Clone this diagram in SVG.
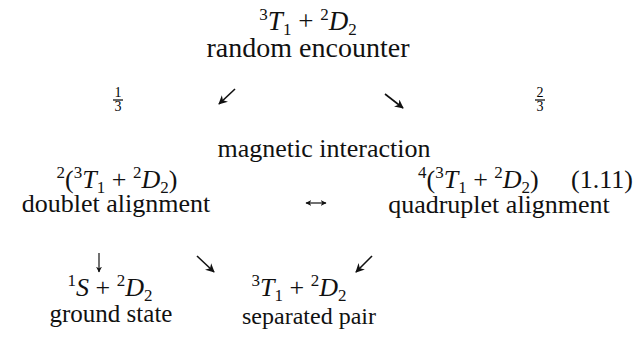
<svg xmlns="http://www.w3.org/2000/svg" width="638" height="354" viewBox="0 0 638 354">
<style>
text{font-family:"Liberation Serif","Times New Roman",serif;font-size:26px;fill:#111}
.m{text-anchor:middle}
.it{font-style:italic}
.s{font-size:17px}
.fr{font-size:14px;text-anchor:middle;fill:#000}
.ar{stroke:#111;stroke-width:1.6;fill:none}
.ar2{stroke:#111;stroke-width:1.2;fill:none}
</style>
<defs>
<marker id="h" viewBox="0 0 10 10" refX="9" refY="5" markerWidth="9" markerHeight="9" markerUnits="userSpaceOnUse" orient="auto">
<path d="M0,0 L10,5 L0,10 L3,5 Z" fill="#111"/>
</marker>
<marker id="hs" viewBox="0 0 10 10" refX="9" refY="5" markerWidth="6" markerHeight="6" markerUnits="userSpaceOnUse" orient="auto-start-reverse">
<path d="M0,0 L10,5 L0,10 L3,5 Z" fill="#111"/>
</marker>
</defs>
<rect width="638" height="354" fill="#fff"/>
<g id="n-top">
<text x="308" y="30" class="m" style="font-size:27px"><tspan class="s" dy="-10">3</tspan><tspan class="it" dy="10">T</tspan><tspan class="s" dy="5">1</tspan><tspan dy="-5"> + </tspan><tspan class="s" dy="-10">2</tspan><tspan class="it" dy="10">D</tspan><tspan class="s" dy="5">2</tspan></text>
<text x="308" y="57" class="m" style="font-size:28px">random encounter</text>
</g>
<g id="n-frac13">
<text x="118" y="97" class="fr">1</text>
<line x1="113" y1="100" x2="123" y2="100" stroke="#000" stroke-width="1.2"/>
<text x="118" y="111" class="fr">3</text>
</g>
<g id="n-frac23">
<text x="540" y="97" class="fr">2</text>
<line x1="535" y1="100" x2="545" y2="100" stroke="#000" stroke-width="1.2"/>
<text x="540" y="111" class="fr">3</text>
</g>
<g id="n-magnetic">
<text x="324" y="157" class="m">magnetic interaction</text>
</g>
<g id="n-doublet">
<text x="117" y="188" class="m"><tspan class="s" dy="-10">2</tspan><tspan dy="10">(</tspan><tspan class="s" dy="-10">3</tspan><tspan class="it" dy="10">T</tspan><tspan class="s" dy="5">1</tspan><tspan dy="-5"> + </tspan><tspan class="s" dy="-10">2</tspan><tspan class="it" dy="10">D</tspan><tspan class="s" dy="5">2</tspan><tspan dy="-5">)</tspan></text>
<text x="116" y="212" class="m">doublet alignment</text>
</g>
<g id="n-quadruplet">
<text x="418" y="188"><tspan class="s" dy="-10">4</tspan><tspan dy="10">(</tspan><tspan class="s" dy="-10">3</tspan><tspan class="it" dy="10">T</tspan><tspan class="s" dy="5">1</tspan><tspan dy="-5"> + </tspan><tspan class="s" dy="-10">2</tspan><tspan class="it" dy="10">D</tspan><tspan class="s" dy="5">2</tspan><tspan dy="-5">)</tspan><tspan x="571">(1.11)</tspan></text>
<text x="499" y="213" class="m">quadruplet alignment</text>
</g>
<g id="n-ground">
<text x="110" y="296" class="m"><tspan class="s" dy="-10">1</tspan><tspan class="it" dy="10">S</tspan><tspan> + </tspan><tspan class="s" dy="-10">2</tspan><tspan class="it" dy="10">D</tspan><tspan class="s" dy="5">2</tspan></text>
<text x="111" y="322" class="m" style="font-size:25px">ground state</text>
</g>
<g id="n-separated">
<text x="299" y="296" class="m"><tspan class="s" dy="-10">3</tspan><tspan class="it" dy="10">T</tspan><tspan class="s" dy="5">1</tspan><tspan dy="-5"> + </tspan><tspan class="s" dy="-10">2</tspan><tspan class="it" dy="10">D</tspan><tspan class="s" dy="5">2</tspan></text>
<text x="309" y="324" class="m" style="font-size:24px">separated pair</text>
</g>
<g id="connectors">
<path class="ar" d="M235,89 L219,104" marker-end="url(#h)"/>
<path class="ar" d="M385,94 L403,108" marker-end="url(#h)"/>
<path class="ar2" d="M306,203 L326,203" marker-start="url(#hs)" marker-end="url(#hs)"/>
<path class="ar2" d="M99,253 L99,272" marker-end="url(#hs)"/>
<path class="ar" d="M197,256 L214,272" marker-end="url(#h)"/>
<path class="ar" d="M372,256 L356,272" marker-end="url(#h)"/>
</g>
</svg>
